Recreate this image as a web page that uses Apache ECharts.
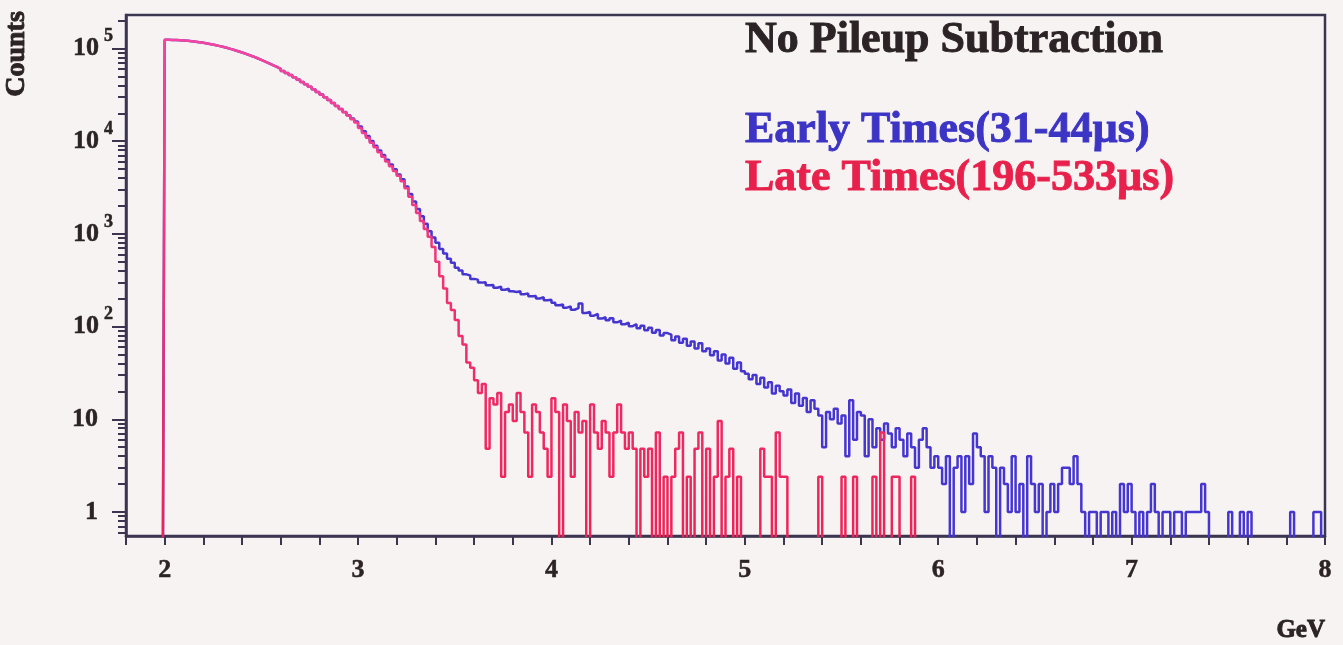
<!DOCTYPE html>
<html>
<head>
<meta charset="utf-8">
<title>No Pileup Subtraction</title>
<script src="https://cdn.jsdelivr.net/npm/echarts@6/dist/echarts.min.js"></script>
<style>
  html, body { margin: 0; padding: 0; background: #f7f3f3; }
  #chart { width: 1343px; height: 645px; }
</style>
</head>
<body>
<div id="chart"></div>
<script>
// Energy spectra, 0.02 GeV bins starting at 1.80 GeV (310 bins up to 8.00 GeV)
const binStart = 1.8;
const binWidth = 0.02;

// Early times (31-44 µs): counts per bin, one row per 0.2 GeV
const earlyCounts = [
  0, 0, 0, 0, 0, 0, 0, 0, 0, 0,
  124100, 123900, 123500, 122900, 122100, 121100, 119900, 118500, 116900, 115200,
  113300, 111300, 109100, 106800, 104300, 101800, 99100, 96400, 93500, 90600,
  87700, 84700, 81600, 78500, 75500, 72400, 69300, 66300, 63300, 60300,
  57300, 54500, 51700, 48900, 46300, 43600, 41100, 38700, 36300, 34000,
  31900, 29800, 27800, 25900, 24000, 22300, 20700, 19100, 17600, 16300,
  14450, 12800, 11400, 10070, 8950, 7960, 7080, 6300, 5600, 4980,
  4370, 3890, 3240, 2690, 2240, 1860, 1550, 1290, 1070, 912,
  801, 688, 615, 538, 489, 431, 402, 366, 356, 327,
  321, 298, 301, 279, 281, 262, 270, 250, 256, 241,
  236, 240, 223, 228, 212, 214, 201, 207, 192, 195,
  181, 170, 173, 160, 165, 152, 158, 177, 140, 144,
  131, 137, 122, 126, 117, 123, 111, 116, 106, 110,
  101, 106, 96, 102, 91, 97, 86, 92, 80, 85,
  82, 71, 78, 67, 74, 62, 69, 58, 66, 54,
  58, 49, 54, 43, 50, 40, 46, 35, 41, 33,
  31, 27, 30, 24, 28, 22, 25, 19, 23, 20,
  18, 21, 15, 19, 14, 17, 12, 16, 13, 11,
  5, 12, 10, 13, 9, 11, 4, 16, 6, 12,
  11, 4, 10, 5, 8, 6, 9, 7, 5, 8,
  6, 4, 7, 5, 3, 6, 8, 5, 3, 4,
  3, 2, 4, 0, 3, 4, 1, 4, 2, 7,
  5, 4, 1, 4, 3, 0, 3, 2, 1, 4,
  1, 2, 0, 4, 2, 1, 2, 0, 1, 2,
  1, 2, 3, 3, 2, 4, 2, 1, 0, 1,
  1, 0, 1, 1, 0, 1, 0, 2, 1, 2,
  1, 0, 1, 0, 1, 2, 1, 0, 1, 1,
  0, 1, 1, 0, 1, 1, 1, 1, 2, 1,
  0, 0, 0, 0, 0, 1, 0, 0, 1, 0,
  1, 0, 0, 0, 0, 0, 0, 0, 0, 0,
  0, 1, 0, 0, 0, 0, 0, 1, 1, 0
];

// Late times (196-533 µs): normalised counts per bin, one row per 0.2 GeV
const lateCounts = [
  0, 0, 0, 0, 0, 0, 0, 0, 0, 0,
  124100, 123900, 123500, 122900, 122100, 121100, 119900, 118500, 116900, 115200,
  113300, 111300, 109100, 106800, 104300, 101800, 99100, 96400, 93500, 90600,
  87700, 84700, 81600, 78500, 75500, 72400, 69300, 66300, 63300, 60300,
  57300, 54500, 51700, 48900, 46300, 43600, 41100, 38700, 36300, 34000,
  31900, 29800, 27800, 25900, 24000, 22200, 20500, 18900, 17300, 15900,
  13900, 12300, 10900, 9650, 8580, 7620, 6780, 6030, 5360, 4760,
  4250, 3700, 3100, 2520, 2050, 1680, 1380, 1130, 930, 720,
  500, 350, 258, 180, 151, 118, 79, 64, 41, 36,
  26.4, 19.2, 24, 4.8, 16.8, 14.4, 19.2, 2.4, 12, 14.4,
  9.6, 19.2, 12, 7.2, 2.4, 14.4, 12, 7.2, 4.8, 2.4,
  16.8, 12, 0, 14.4, 9.6, 2.4, 12, 7.2, 9.6, 0,
  14.4, 7.2, 4.8, 9.6, 7.2, 2.4, 7.2, 14.4, 7.2, 4.8,
  7.2, 4.8, 0, 4.8, 2.4, 4.8, 0, 7.2, 0, 2.4,
  0, 2.4, 4.8, 7.2, 0, 2.4, 0, 4.8, 7.2, 0,
  4.8, 0, 2.4, 9.6, 0, 2.4, 4.8, 0, 2.4, 0,
  0, 0, 0, 0, 4.8, 2.4, 2.4, 0, 7.2, 2.4,
  2.4, 0, 0, 0, 0, 0, 0, 0, 0, 2.4,
  0, 0, 0, 0, 0, 2.4, 0, 0, 2.4, 0,
  0, 0, 0, 2.4, 0, 7.2, 0, 0, 2.4, 2.4,
  0, 0, 0, 2.4, 0, 0, 0, 0, 0, 0,
  0, 0, 0, 0, 0, 0, 0, 0, 0, 0,
  0, 0, 0, 0, 0, 0, 0, 0, 0, 0,
  0, 0, 0, 0, 0, 0, 0, 0, 0, 0,
  0, 0, 0, 0, 0, 0, 0, 0, 0, 0,
  0, 0, 0, 0, 0, 0, 0, 0, 0, 0,
  0, 0, 0, 0, 0, 0, 0, 0, 0, 0,
  0, 0, 0, 0, 0, 0, 0, 0, 0, 0,
  0, 0, 0, 0, 0, 0, 0, 0, 0, 0,
  0, 0, 0, 0, 0, 0, 0, 0, 0, 0,
  0, 0, 0, 0, 0, 0, 0, 0, 0, 0
];

// Axis decorations
const yDecades = [1, 10, 100, 1000, 10000, 100000];
const yMinorTicks = [
  0.6, 0.7, 0.8, 0.9,
  2, 3, 4, 5, 6, 7, 8, 9,
  20, 30, 40, 50, 60, 70, 80, 90,
  200, 300, 400, 500, 600, 700, 800, 900,
  2000, 3000, 4000, 5000, 6000, 7000, 8000, 9000,
  20000, 30000, 40000, 50000, 60000, 70000, 80000, 90000,
  200000
];
const titleText = 'No Pileup Subtraction';
const earlyLabel = 'Early Times(31-44µs)';
const lateLabel = 'Late Times(196-533µs)';
const xTitle = 'GeV';
const yTitle = 'Counts';

const serif = '"Liberation Serif", "Times New Roman", serif';
const ink = '#2b2326';
const axisColor = '#3b3550';
const earlyColor = '#4636d0';
const earlyTextColor = '#3c34c4';
const lateTextColor = '#e8214c';

// Histogram points at bin centres; empty bins fall below the log-axis floor and are clipped
function histogramPoints(counts) {
  return counts.map((c, i) => [
    Math.round((binStart + binWidth * (i + 0.5)) * 1000) / 1000,
    c > 0 ? c : 0.1
  ]);
}

// Heavy serif text, thickened with a thin outline of the same colour
function heavyText(x, y, text, size, color, align, rotation) {
  return {
    type: 'text', x: x, y: y, z: 10, rotation: rotation || 0,
    style: {
      text: text, font: 'bold ' + size + 'px ' + serif, fill: color,
      stroke: color, lineWidth: 0.9,
      align: align, verticalAlign: 'middle'
    }
  };
}

const chart = echarts.init(document.getElementById('chart'), null, { renderer: 'canvas' });

const yRange = { type: 'log', logBase: 10, min: 0.55, max: 230000, position: 'left' };
const tickFont = { fontFamily: serif, fontWeight: 'bold', color: ink, textBorderColor: ink, textBorderWidth: 0.5 };

chart.setOption({
  backgroundColor: '#f7f3f3',
  animation: false,
  grid: {
    left: 126, right: 18, top: 15, bottom: 109,
    show: true, borderColor: axisColor, borderWidth: 2.5, backgroundColor: 'transparent'
  },
  xAxis: {
    type: 'value', min: 1.8, max: 8, interval: 0.2,
    axisLine: { lineStyle: { color: axisColor, width: 2.5 } },
    axisTick: { length: 9, lineStyle: { color: axisColor, width: 2 } },
    splitLine: { show: false },
    axisLabel: Object.assign({}, tickFont, {
      margin: 21, fontSize: 26,
      formatter: v => (Math.abs(v - Math.round(v)) < 1e-6 ? String(Math.round(v)) : '')
    })
  },
  yAxis: [
    Object.assign({}, yRange, {
      axisLine: { show: true, lineStyle: { color: axisColor, width: 2.5 } },
      axisTick: { show: true, length: 14, customValues: yDecades, lineStyle: { color: axisColor, width: 2 } },
      splitLine: { show: false },
      axisLabel: {
        customValues: yDecades,
        margin: 13,
        formatter: v => {
          const e = Math.round(Math.log10(v));
          if (e === 0) return '{b|1}{sp| }';
          if (e === 1) return '{b|10}{sp| }';
          return '{b|10}{sup|' + e + '}';
        },
        rich: {
          b: Object.assign({}, tickFont, { fontSize: 26, lineHeight: 26, verticalAlign: 'bottom' }),
          sup: Object.assign({}, tickFont, { fontSize: 18, lineHeight: 18,
                 padding: [0, 0, 16, 5], verticalAlign: 'bottom' }),
          sp: { width: 15, fontSize: 18 }
        }
      }
    }),
    Object.assign({}, yRange, {
      axisLine: { show: false },
      axisTick: { show: true, length: 8, customValues: yMinorTicks, lineStyle: { color: axisColor, width: 2 } },
      axisLabel: { show: false },
      splitLine: { show: false }
    })
  ],
  series: [
    {
      name: earlyLabel, type: 'line', step: 'middle', symbol: 'none', clip: true,
      xAxisIndex: 0, yAxisIndex: 0, z: 2,
      data: histogramPoints(earlyCounts),
      lineStyle: { color: earlyColor, width: 2.5 }
    },
    {
      name: lateLabel, type: 'line', step: 'middle', symbol: 'none', clip: true,
      xAxisIndex: 0, yAxisIndex: 0, z: 3,
      data: histogramPoints(lateCounts),
      lineStyle: {
        width: 2.5,
        color: new echarts.graphic.LinearGradient(0, 0, 0, 1, [
          { offset: 0, color: '#f545a0' },
          { offset: 0.5, color: '#f02f6c' },
          { offset: 1, color: '#ec1f50' }
        ])
      }
    }
  ],
  graphic: [
    heavyText(745, 41, titleText, 44, ink, 'left'),
    heavyText(745, 131, earlyLabel, 44, earlyTextColor, 'left'),
    heavyText(745, 179, lateLabel, 44, lateTextColor, 'left'),
    heavyText(1325, 631, xTitle, 25, ink, 'right'),
    heavyText(17, 54, yTitle, 28, ink, 'center', Math.PI / 2)
  ]
});
</script>
</body>
</html>
